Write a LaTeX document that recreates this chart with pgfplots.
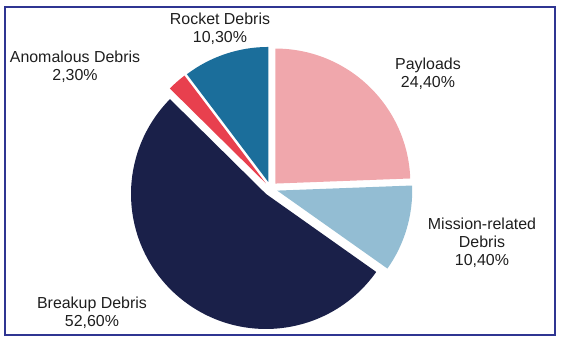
\documentclass[border=0pt]{standalone}
\usepackage{pgfplots}
\usepackage{pgfplotstable}
\pgfplotsset{compat=1.18}
\usepackage{fontspec}
\setmainfont{Liberation Sans}
\definecolor{cPay}{HTML}{F0A7AC}
\definecolor{cMis}{HTML}{93BDD3}
\definecolor{cBrk}{HTML}{1A2049}
\definecolor{cAno}{HTML}{E8404E}
\definecolor{cRoc}{HTML}{1B6E9B}
\definecolor{cFrame}{HTML}{2F3592}
\definecolor{cTxt}{HTML}{1E1E1E}

\pgfplotstableread{
label value
Payloads 24.4
Mission 10.4
Breakup 52.6
Anomalous 2.3
Rocket 10.3
}\piedata

\def\cx{270.5}
\def\cy{155.4}
\def\ex{7}
% compute slice angles from the data
\def\curang{90}
\foreach \i/\nm in {0/A,1/B,2/C,3/D,4/E}{
  \pgfplotstablegetelem{\i}{value}\of\piedata
  \pgfmathsetmacro{\s}{\curang}
  \pgfmathsetmacro{\e}{\curang-3.6*\pgfplotsretval}
  \pgfmathsetmacro{\m}{(\s+\e)/2}
  \pgfmathsetmacro{\ox}{\cx+\ex*cos(\m)}
  \pgfmathsetmacro{\oy}{\cy+\ex*sin(\m)}
  \expandafter\xdef\csname s\nm\endcsname{\s}
  \expandafter\xdef\csname e\nm\endcsname{\e}
  \expandafter\xdef\csname ox\nm\endcsname{\ox}
  \expandafter\xdef\csname oy\nm\endcsname{\oy}
  \xdef\curang{\e}
}

\begin{document}
\begin{tikzpicture}
\begin{axis}[
  scale only axis, width=564bp, height=344bp,
  xmin=0, xmax=564, ymin=0, ymax=344,
  hide axis, clip=false]
\path (axis cs:0,0) rectangle (axis cs:564,344);
\fill[cPay] (axis cs:\oxA,\oyA) -- ++(\sA:135bp) arc[start angle=\sA, end angle=\eA, radius=135bp] -- cycle;
\fill[cMis] (axis cs:\oxB,\oyB) -- ++(\sB:135bp) arc[start angle=\sB, end angle=\eB, radius=135bp] -- cycle;
\fill[cBrk] (axis cs:\oxC,\oyC) -- ++(\sC:135bp) arc[start angle=\sC, end angle=\eC, radius=135bp] -- cycle;
\fill[cAno] (axis cs:\oxD,\oyD) -- ++(\sD:135bp) arc[start angle=\sD, end angle=\eD, radius=135bp] -- cycle;
\fill[cRoc] (axis cs:\oxE,\oyE) -- ++(\sE:135bp) arc[start angle=\sE, end angle=\eE, radius=135bp] -- cycle;
\draw[cFrame, line width=2.2bp] (axis cs:5,9) rectangle (axis cs:555,337);
\begin{scope}[every node/.style={align=center, text=cTxt, font=\fontsize{16}{18}\selectfont, inner sep=0pt}]
\node at (axis cs:220,315.5) {Rocket Debris\\10,30\%};
\node at (axis cs:75,277.5) {Anomalous Debris\\2,30\%};
\node at (axis cs:428,270) {Payloads\\24,40\%};
\node at (axis cs:482,101) {Mission-related\\Debris\\10,40\%};
\node at (axis cs:92,31) {Breakup Debris\\52,60\%};
\end{scope}
\end{axis}
\end{tikzpicture}
\end{document}
